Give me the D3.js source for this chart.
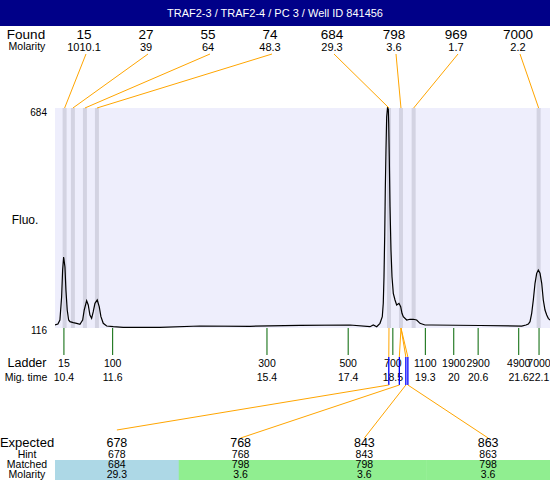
<!DOCTYPE html>
<html><head><meta charset="utf-8">
<script src="https://cdn.jsdelivr.net/npm/d3@7"></script>
<style>
html,body{margin:0;padding:0;background:#fff;}
svg{display:block;font-family:"Liberation Sans",Arial,sans-serif;}
</style></head>
<body><svg id="c" width="550" height="480"></svg>
<script>
const title = "TRAF2-3 / TRAF2-4 / PC 3 / Well ID 841456";
const foundSizes = [15, 27, 55, 74, 684, 798, 969, 7000];
const foundMolarity = ["1010.1", "39", "64", "48.3", "29.3", "3.6", "1.7", "2.2"];
const foundTimes = [10.417, 10.621, 10.917, 11.213, 18.405, 18.700, 19.012, 22.090];
const ladderSizes = [15, 100, 300, 500, 700, 1100, 1900, 2900, 4900, 7000];
const ladderTimes = [10.4, 11.6, 15.4, 17.4, 18.5, 19.3, 20, 20.6, 21.6, 22.1];
const expectedSizes = [678, 768, 843, 863];
const hintSizes = [678, 768, 843, 863];
const matchedSizes = [684, 798, 798, 798];
const matchedMolarity = ["29.3", "3.6", "3.6", "3.6"];
const expectedTimes = [18.40, 18.66, 18.82, 18.87];
const yTicks = [116, 684];
const traceTime = [10.178,10.252,10.301,10.343,10.368,10.393,10.425,10.449,10.481,10.516,10.548,10.629,10.713,10.794,10.861,10.900,10.959,10.999,11.040,11.082,11.122,11.164,11.220,11.269,11.311,11.368,11.452,11.614,11.861,12.765,13.750,14.981,16.213,17.444,17.937,18.018,18.102,18.183,18.240,18.264,18.282,18.299,18.314,18.331,18.348,18.368,18.388,18.398,18.412,18.430,18.454,18.479,18.511,18.553,18.594,18.651,18.693,18.725,18.757,18.841,18.922,19.003,19.087,19.168,19.291,19.457,20.646,21.673,21.779,21.836,21.878,21.919,21.959,22.001,22.042,22.082,22.124,22.166,22.205,22.247,22.289,22.328,22.370];
const traceFluo = [123.7,126.3,136.7,196.0,265.8,299.3,273.5,214.1,162.5,136.7,132.3,129.7,128.1,125.6,136.7,162.5,186.5,175.4,149.6,141.0,158.1,179.8,188.3,171.0,145.2,128.1,121.2,119.4,117.8,117.8,121.2,120.4,123.0,123.7,119.4,123.7,119.4,128.1,145.2,179.8,248.5,351.7,472.3,575.6,661.6,684.0,680.7,644.5,558.3,429.2,317.4,248.5,205.6,188.3,175.4,179.8,171.0,154.0,145.2,136.7,138.5,138.5,136.7,128.1,123.7,123.7,122.5,121.0,123.7,126.3,132.3,154.0,188.3,231.4,257.2,265.8,257.2,231.4,188.3,162.5,149.6,141.0,136.7];

const svg = d3.select("#c");
const W = 550, H = 480;
const plot = {left: 55, right: 550, top: 108, bottom: 328};
const x = d3.scaleLinear().domain([10.18, 22.37]).range([plot.left, plot.right]);
const y = d3.scaleLinear().domain([116, 684]).range([plot.bottom, plot.top]);
const fx = d3.scalePoint().domain(d3.range(foundSizes.length)).range([84, 518]);
const col = d3.scaleBand().domain(d3.range(expectedSizes.length)).range([plot.left, plot.right]);
const cellColor = d3.scaleOrdinal().domain([684, 798]).range(["#ADD8E6", "#90EE90"]);
const orange = "#FFA500";

// title bar
svg.append("rect").attr("x", 0).attr("y", 0).attr("width", W).attr("height", 26).attr("fill", "#000088");
svg.append("text").attr("x", 275).attr("y", 17).attr("text-anchor", "middle")
  .attr("fill", "#fff").attr("font-size", 11).text(title);

// plot background
svg.append("rect").attr("x", plot.left).attr("y", plot.top)
  .attr("width", plot.right - plot.left).attr("height", plot.bottom - plot.top).attr("fill", "#EEEEFC");

// peak bands
svg.append("g").selectAll("rect").data(foundTimes).join("rect")
  .attr("x", d => x(d) - 2).attr("y", plot.top).attr("width", 4)
  .attr("height", plot.bottom - plot.top).attr("fill", "#D3D3E2");

// y labels
svg.append("g").selectAll("text").data(yTicks).join("text")
  .attr("x", 47).attr("y", d => y(d) + (d === 684 ? 8 : 6)).attr("text-anchor", "end")
  .attr("font-size", 10).attr("fill", "#000").text(d => d);
svg.append("text").attr("x", 25).attr("y", 224).attr("text-anchor", "middle")
  .attr("font-size", 12).text("Fluo.");

// trace
svg.append("clipPath").attr("id", "clip").append("rect")
  .attr("x", plot.left).attr("y", plot.top - 1).attr("width", plot.right - plot.left).attr("height", plot.bottom - plot.top + 1);
const line = d3.line().x(d => x(d[0])).y(d => y(d[1]));
svg.append("path").datum(traceTime.map((t, i) => [t, traceFluo[i]]))
  .attr("d", line).attr("fill", "none").attr("stroke", "#000").attr("stroke-width", 1.2)
  .attr("clip-path", "url(#clip)");

// found header
svg.append("text").attr("x", 26).attr("y", 39).attr("text-anchor", "middle").attr("font-size", 13.5).text("Found");
svg.append("text").attr("x", 27).attr("y", 50).attr("text-anchor", "middle").attr("font-size", 10.5).text("Molarity");
svg.append("g").selectAll("text").data(foundSizes).join("text")
  .attr("x", (d, i) => fx(i)).attr("y", 39).attr("text-anchor", "middle").attr("font-size", 13.5).text(d => d);
svg.append("g").selectAll("text").data(foundMolarity).join("text")
  .attr("x", (d, i) => fx(i)).attr("y", 50.5).attr("text-anchor", "middle").attr("font-size", 11).text(d => d);
svg.append("g").selectAll("line").data(foundTimes).join("line")
  .attr("x1", (d, i) => fx(i) + 2).attr("y1", 54).attr("x2", d => x(d)).attr("y2", plot.top)
  .attr("stroke", orange).attr("stroke-width", 1);

// ladder
svg.append("g").selectAll("line").data(ladderTimes).join("line")
  .attr("x1", d => x(d)).attr("x2", d => x(d)).attr("y1", plot.bottom).attr("y2", 355)
  .attr("stroke", "#006400").attr("stroke-width", 1);
svg.append("text").attr("x", 27).attr("y", 367).attr("text-anchor", "middle").attr("font-size", 12.5).text("Ladder");
svg.append("text").attr("x", 26).attr("y", 381).attr("text-anchor", "middle").attr("font-size", 10.5).text("Mig. time");
svg.append("g").selectAll("text").data(ladderSizes).join("text")
  .attr("x", (d, i) => x(ladderTimes[i])).attr("y", 367).attr("text-anchor", "middle").attr("font-size", 10.5).text(d => d);
svg.append("g").selectAll("text").data(ladderTimes).join("text")
  .attr("x", d => x(d)).attr("y", 381).attr("text-anchor", "middle").attr("font-size", 10.5).text(d => d);

// matched -> expected connectors
const matchedTime = m => foundTimes[foundSizes.indexOf(m)];
svg.append("g").selectAll("line").data(expectedTimes).join("line")
  .attr("x1", (d, i) => x(matchedTime(matchedSizes[i]))).attr("y1", plot.bottom)
  .attr("x2", d => x(d)).attr("y2", 357).attr("stroke", orange).attr("stroke-width", 1);
svg.append("g").selectAll("line").data(expectedTimes).join("line")
  .attr("x1", d => x(d)).attr("x2", d => x(d)).attr("y1", 357).attr("y2", 385)
  .attr("stroke", "#0000FF").attr("stroke-width", 1.3);
svg.append("g").selectAll("line").data(expectedTimes).join("line")
  .attr("x1", d => x(d)).attr("y1", 385)
  .attr("x2", (d, i) => col(i) + col.bandwidth() / 2).attr("y2", (d, i) => i === 0 ? 430 : 438)
  .attr("stroke", orange).attr("stroke-width", 1);

// table
svg.append("g").selectAll("rect").data(matchedSizes).join("rect")
  .attr("x", (d, i) => col(i)).attr("y", 460).attr("width", col.bandwidth() + 0.5).attr("height", 20)
  .attr("fill", d => cellColor(d));
const rowLabels = [["Expected", 446.5, 13], ["Hint", 458, 10.5], ["Matched", 468, 10.5], ["Molarity", 477.5, 10.5]];
svg.append("g").selectAll("text").data(rowLabels).join("text")
  .attr("x", 27).attr("y", d => d[1]).attr("text-anchor", "middle").attr("font-size", d => d[2]).text(d => d[0]);
const rows = [[expectedSizes, 446.5, 12.5], [hintSizes, 458, 10.5], [matchedSizes, 468, 10.5], [matchedMolarity, 477.5, 10.5]];
rows.forEach(([vals, yy, fs]) => {
  svg.append("g").selectAll("text").data(vals).join("text")
    .attr("x", (d, i) => col(i) + col.bandwidth() / 2).attr("y", yy)
    .attr("text-anchor", "middle").attr("font-size", fs).text(d => d);
});
</script></body></html>
